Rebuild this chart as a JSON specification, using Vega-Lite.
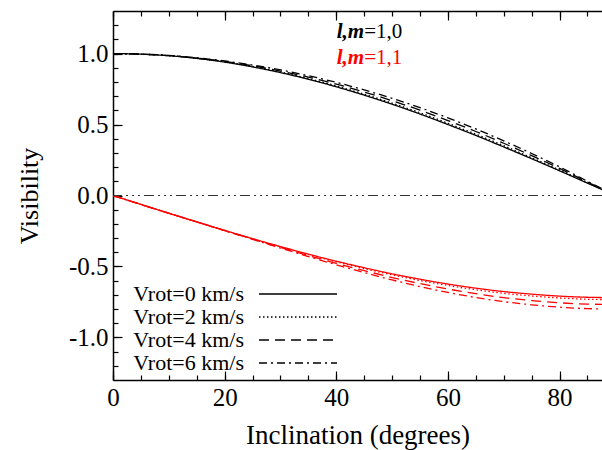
{
  "$schema": "https://vega.github.io/schema/vega-lite/v6.json",
  "width": 489,
  "height": 369,
  "autosize": {"type": "none"},
  "padding": {"left": 113, "top": 11, "right": 0, "bottom": 70},
  "background": "white",
  "config": {
    "view": {"stroke": null},
    "font": "Liberation Serif",
    "axis": {
      "grid": false,
      "domainColor": "black",
      "domainWidth": 1.5,
      "tickColor": "black",
      "tickWidth": 1.2,
      "labelFont": "Liberation Serif",
      "labelFontSize": 25,
      "labelColor": "black",
      "labelFlush": false,
      "titleFont": "Liberation Serif",
      "titleFontSize": 26,
      "titleFontWeight": "normal",
      "titleColor": "black",
      "labelOverlap": false
    }
  },
  "datasets": {
    "curves": [
      {"inc":0,"vis":1.000,"mode":"1,0","vrot":"Vrot=0 km/s"},
      {"inc":5,"vis":0.996,"mode":"1,0","vrot":"Vrot=0 km/s"},
      {"inc":10,"vis":0.985,"mode":"1,0","vrot":"Vrot=0 km/s"},
      {"inc":15,"vis":0.966,"mode":"1,0","vrot":"Vrot=0 km/s"},
      {"inc":20,"vis":0.940,"mode":"1,0","vrot":"Vrot=0 km/s"},
      {"inc":25,"vis":0.906,"mode":"1,0","vrot":"Vrot=0 km/s"},
      {"inc":30,"vis":0.866,"mode":"1,0","vrot":"Vrot=0 km/s"},
      {"inc":35,"vis":0.819,"mode":"1,0","vrot":"Vrot=0 km/s"},
      {"inc":40,"vis":0.766,"mode":"1,0","vrot":"Vrot=0 km/s"},
      {"inc":45,"vis":0.707,"mode":"1,0","vrot":"Vrot=0 km/s"},
      {"inc":50,"vis":0.643,"mode":"1,0","vrot":"Vrot=0 km/s"},
      {"inc":55,"vis":0.574,"mode":"1,0","vrot":"Vrot=0 km/s"},
      {"inc":60,"vis":0.500,"mode":"1,0","vrot":"Vrot=0 km/s"},
      {"inc":65,"vis":0.423,"mode":"1,0","vrot":"Vrot=0 km/s"},
      {"inc":70,"vis":0.342,"mode":"1,0","vrot":"Vrot=0 km/s"},
      {"inc":75,"vis":0.259,"mode":"1,0","vrot":"Vrot=0 km/s"},
      {"inc":80,"vis":0.174,"mode":"1,0","vrot":"Vrot=0 km/s"},
      {"inc":85,"vis":0.087,"mode":"1,0","vrot":"Vrot=0 km/s"},
      {"inc":87.6,"vis":0.042,"mode":"1,0","vrot":"Vrot=0 km/s"},

      {"inc":0,"vis":1.000,"mode":"1,0","vrot":"Vrot=2 km/s"},
      {"inc":5,"vis":0.996,"mode":"1,0","vrot":"Vrot=2 km/s"},
      {"inc":10,"vis":0.985,"mode":"1,0","vrot":"Vrot=2 km/s"},
      {"inc":15,"vis":0.967,"mode":"1,0","vrot":"Vrot=2 km/s"},
      {"inc":20,"vis":0.942,"mode":"1,0","vrot":"Vrot=2 km/s"},
      {"inc":25,"vis":0.909,"mode":"1,0","vrot":"Vrot=2 km/s"},
      {"inc":30,"vis":0.870,"mode":"1,0","vrot":"Vrot=2 km/s"},
      {"inc":35,"vis":0.824,"mode":"1,0","vrot":"Vrot=2 km/s"},
      {"inc":40,"vis":0.772,"mode":"1,0","vrot":"Vrot=2 km/s"},
      {"inc":45,"vis":0.714,"mode":"1,0","vrot":"Vrot=2 km/s"},
      {"inc":50,"vis":0.651,"mode":"1,0","vrot":"Vrot=2 km/s"},
      {"inc":55,"vis":0.583,"mode":"1,0","vrot":"Vrot=2 km/s"},
      {"inc":60,"vis":0.509,"mode":"1,0","vrot":"Vrot=2 km/s"},
      {"inc":65,"vis":0.432,"mode":"1,0","vrot":"Vrot=2 km/s"},
      {"inc":70,"vis":0.351,"mode":"1,0","vrot":"Vrot=2 km/s"},
      {"inc":75,"vis":0.266,"mode":"1,0","vrot":"Vrot=2 km/s"},
      {"inc":80,"vis":0.180,"mode":"1,0","vrot":"Vrot=2 km/s"},
      {"inc":85,"vis":0.090,"mode":"1,0","vrot":"Vrot=2 km/s"},
      {"inc":87.6,"vis":0.043,"mode":"1,0","vrot":"Vrot=2 km/s"},

      {"inc":0,"vis":1.000,"mode":"1,0","vrot":"Vrot=4 km/s"},
      {"inc":5,"vis":0.996,"mode":"1,0","vrot":"Vrot=4 km/s"},
      {"inc":10,"vis":0.986,"mode":"1,0","vrot":"Vrot=4 km/s"},
      {"inc":15,"vis":0.968,"mode":"1,0","vrot":"Vrot=4 km/s"},
      {"inc":20,"vis":0.945,"mode":"1,0","vrot":"Vrot=4 km/s"},
      {"inc":25,"vis":0.914,"mode":"1,0","vrot":"Vrot=4 km/s"},
      {"inc":30,"vis":0.877,"mode":"1,0","vrot":"Vrot=4 km/s"},
      {"inc":35,"vis":0.834,"mode":"1,0","vrot":"Vrot=4 km/s"},
      {"inc":40,"vis":0.785,"mode":"1,0","vrot":"Vrot=4 km/s"},
      {"inc":45,"vis":0.729,"mode":"1,0","vrot":"Vrot=4 km/s"},
      {"inc":50,"vis":0.668,"mode":"1,0","vrot":"Vrot=4 km/s"},
      {"inc":55,"vis":0.601,"mode":"1,0","vrot":"Vrot=4 km/s"},
      {"inc":60,"vis":0.528,"mode":"1,0","vrot":"Vrot=4 km/s"},
      {"inc":65,"vis":0.451,"mode":"1,0","vrot":"Vrot=4 km/s"},
      {"inc":70,"vis":0.368,"mode":"1,0","vrot":"Vrot=4 km/s"},
      {"inc":75,"vis":0.281,"mode":"1,0","vrot":"Vrot=4 km/s"},
      {"inc":80,"vis":0.191,"mode":"1,0","vrot":"Vrot=4 km/s"},
      {"inc":85,"vis":0.095,"mode":"1,0","vrot":"Vrot=4 km/s"},
      {"inc":87.6,"vis":0.046,"mode":"1,0","vrot":"Vrot=4 km/s"},

      {"inc":0,"vis":1.000,"mode":"1,0","vrot":"Vrot=6 km/s"},
      {"inc":5,"vis":0.996,"mode":"1,0","vrot":"Vrot=6 km/s"},
      {"inc":10,"vis":0.987,"mode":"1,0","vrot":"Vrot=6 km/s"},
      {"inc":15,"vis":0.970,"mode":"1,0","vrot":"Vrot=6 km/s"},
      {"inc":20,"vis":0.948,"mode":"1,0","vrot":"Vrot=6 km/s"},
      {"inc":25,"vis":0.919,"mode":"1,0","vrot":"Vrot=6 km/s"},
      {"inc":30,"vis":0.885,"mode":"1,0","vrot":"Vrot=6 km/s"},
      {"inc":35,"vis":0.844,"mode":"1,0","vrot":"Vrot=6 km/s"},
      {"inc":40,"vis":0.797,"mode":"1,0","vrot":"Vrot=6 km/s"},
      {"inc":45,"vis":0.744,"mode":"1,0","vrot":"Vrot=6 km/s"},
      {"inc":50,"vis":0.685,"mode":"1,0","vrot":"Vrot=6 km/s"},
      {"inc":55,"vis":0.619,"mode":"1,0","vrot":"Vrot=6 km/s"},
      {"inc":60,"vis":0.547,"mode":"1,0","vrot":"Vrot=6 km/s"},
      {"inc":65,"vis":0.469,"mode":"1,0","vrot":"Vrot=6 km/s"},
      {"inc":70,"vis":0.385,"mode":"1,0","vrot":"Vrot=6 km/s"},
      {"inc":75,"vis":0.296,"mode":"1,0","vrot":"Vrot=6 km/s"},
      {"inc":80,"vis":0.202,"mode":"1,0","vrot":"Vrot=6 km/s"},
      {"inc":85,"vis":0.100,"mode":"1,0","vrot":"Vrot=6 km/s"},
      {"inc":87.6,"vis":0.048,"mode":"1,0","vrot":"Vrot=6 km/s"},

      {"inc":0,"vis":0.000,"mode":"1,1","vrot":"Vrot=0 km/s"},
      {"inc":5,"vis":-0.063,"mode":"1,1","vrot":"Vrot=0 km/s"},
      {"inc":10,"vis":-0.125,"mode":"1,1","vrot":"Vrot=0 km/s"},
      {"inc":15,"vis":-0.186,"mode":"1,1","vrot":"Vrot=0 km/s"},
      {"inc":20,"vis":-0.246,"mode":"1,1","vrot":"Vrot=0 km/s"},
      {"inc":25,"vis":-0.304,"mode":"1,1","vrot":"Vrot=0 km/s"},
      {"inc":30,"vis":-0.360,"mode":"1,1","vrot":"Vrot=0 km/s"},
      {"inc":35,"vis":-0.413,"mode":"1,1","vrot":"Vrot=0 km/s"},
      {"inc":40,"vis":-0.463,"mode":"1,1","vrot":"Vrot=0 km/s"},
      {"inc":45,"vis":-0.509,"mode":"1,1","vrot":"Vrot=0 km/s"},
      {"inc":50,"vis":-0.552,"mode":"1,1","vrot":"Vrot=0 km/s"},
      {"inc":55,"vis":-0.590,"mode":"1,1","vrot":"Vrot=0 km/s"},
      {"inc":60,"vis":-0.624,"mode":"1,1","vrot":"Vrot=0 km/s"},
      {"inc":65,"vis":-0.653,"mode":"1,1","vrot":"Vrot=0 km/s"},
      {"inc":70,"vis":-0.677,"mode":"1,1","vrot":"Vrot=0 km/s"},
      {"inc":75,"vis":-0.695,"mode":"1,1","vrot":"Vrot=0 km/s"},
      {"inc":80,"vis":-0.709,"mode":"1,1","vrot":"Vrot=0 km/s"},
      {"inc":85,"vis":-0.717,"mode":"1,1","vrot":"Vrot=0 km/s"},
      {"inc":87.6,"vis":-0.719,"mode":"1,1","vrot":"Vrot=0 km/s"},

      {"inc":0,"vis":0.000,"mode":"1,1","vrot":"Vrot=2 km/s"},
      {"inc":5,"vis":-0.063,"mode":"1,1","vrot":"Vrot=2 km/s"},
      {"inc":10,"vis":-0.125,"mode":"1,1","vrot":"Vrot=2 km/s"},
      {"inc":15,"vis":-0.186,"mode":"1,1","vrot":"Vrot=2 km/s"},
      {"inc":20,"vis":-0.246,"mode":"1,1","vrot":"Vrot=2 km/s"},
      {"inc":25,"vis":-0.305,"mode":"1,1","vrot":"Vrot=2 km/s"},
      {"inc":30,"vis":-0.362,"mode":"1,1","vrot":"Vrot=2 km/s"},
      {"inc":35,"vis":-0.416,"mode":"1,1","vrot":"Vrot=2 km/s"},
      {"inc":40,"vis":-0.467,"mode":"1,1","vrot":"Vrot=2 km/s"},
      {"inc":45,"vis":-0.515,"mode":"1,1","vrot":"Vrot=2 km/s"},
      {"inc":50,"vis":-0.559,"mode":"1,1","vrot":"Vrot=2 km/s"},
      {"inc":55,"vis":-0.599,"mode":"1,1","vrot":"Vrot=2 km/s"},
      {"inc":60,"vis":-0.634,"mode":"1,1","vrot":"Vrot=2 km/s"},
      {"inc":65,"vis":-0.664,"mode":"1,1","vrot":"Vrot=2 km/s"},
      {"inc":70,"vis":-0.689,"mode":"1,1","vrot":"Vrot=2 km/s"},
      {"inc":75,"vis":-0.708,"mode":"1,1","vrot":"Vrot=2 km/s"},
      {"inc":80,"vis":-0.722,"mode":"1,1","vrot":"Vrot=2 km/s"},
      {"inc":85,"vis":-0.731,"mode":"1,1","vrot":"Vrot=2 km/s"},
      {"inc":87.6,"vis":-0.733,"mode":"1,1","vrot":"Vrot=2 km/s"},

      {"inc":0,"vis":0.000,"mode":"1,1","vrot":"Vrot=4 km/s"},
      {"inc":5,"vis":-0.063,"mode":"1,1","vrot":"Vrot=4 km/s"},
      {"inc":10,"vis":-0.125,"mode":"1,1","vrot":"Vrot=4 km/s"},
      {"inc":15,"vis":-0.186,"mode":"1,1","vrot":"Vrot=4 km/s"},
      {"inc":20,"vis":-0.247,"mode":"1,1","vrot":"Vrot=4 km/s"},
      {"inc":25,"vis":-0.307,"mode":"1,1","vrot":"Vrot=4 km/s"},
      {"inc":30,"vis":-0.366,"mode":"1,1","vrot":"Vrot=4 km/s"},
      {"inc":35,"vis":-0.423,"mode":"1,1","vrot":"Vrot=4 km/s"},
      {"inc":40,"vis":-0.478,"mode":"1,1","vrot":"Vrot=4 km/s"},
      {"inc":45,"vis":-0.529,"mode":"1,1","vrot":"Vrot=4 km/s"},
      {"inc":50,"vis":-0.578,"mode":"1,1","vrot":"Vrot=4 km/s"},
      {"inc":55,"vis":-0.621,"mode":"1,1","vrot":"Vrot=4 km/s"},
      {"inc":60,"vis":-0.659,"mode":"1,1","vrot":"Vrot=4 km/s"},
      {"inc":65,"vis":-0.692,"mode":"1,1","vrot":"Vrot=4 km/s"},
      {"inc":70,"vis":-0.720,"mode":"1,1","vrot":"Vrot=4 km/s"},
      {"inc":75,"vis":-0.740,"mode":"1,1","vrot":"Vrot=4 km/s"},
      {"inc":80,"vis":-0.756,"mode":"1,1","vrot":"Vrot=4 km/s"},
      {"inc":85,"vis":-0.765,"mode":"1,1","vrot":"Vrot=4 km/s"},
      {"inc":87.6,"vis":-0.767,"mode":"1,1","vrot":"Vrot=4 km/s"},

      {"inc":0,"vis":0.000,"mode":"1,1","vrot":"Vrot=6 km/s"},
      {"inc":5,"vis":-0.063,"mode":"1,1","vrot":"Vrot=6 km/s"},
      {"inc":10,"vis":-0.125,"mode":"1,1","vrot":"Vrot=6 km/s"},
      {"inc":15,"vis":-0.186,"mode":"1,1","vrot":"Vrot=6 km/s"},
      {"inc":20,"vis":-0.248,"mode":"1,1","vrot":"Vrot=6 km/s"},
      {"inc":25,"vis":-0.309,"mode":"1,1","vrot":"Vrot=6 km/s"},
      {"inc":30,"vis":-0.370,"mode":"1,1","vrot":"Vrot=6 km/s"},
      {"inc":35,"vis":-0.430,"mode":"1,1","vrot":"Vrot=6 km/s"},
      {"inc":40,"vis":-0.488,"mode":"1,1","vrot":"Vrot=6 km/s"},
      {"inc":45,"vis":-0.543,"mode":"1,1","vrot":"Vrot=6 km/s"},
      {"inc":50,"vis":-0.595,"mode":"1,1","vrot":"Vrot=6 km/s"},
      {"inc":55,"vis":-0.642,"mode":"1,1","vrot":"Vrot=6 km/s"},
      {"inc":60,"vis":-0.683,"mode":"1,1","vrot":"Vrot=6 km/s"},
      {"inc":65,"vis":-0.719,"mode":"1,1","vrot":"Vrot=6 km/s"},
      {"inc":70,"vis":-0.748,"mode":"1,1","vrot":"Vrot=6 km/s"},
      {"inc":75,"vis":-0.770,"mode":"1,1","vrot":"Vrot=6 km/s"},
      {"inc":80,"vis":-0.787,"mode":"1,1","vrot":"Vrot=6 km/s"},
      {"inc":85,"vis":-0.797,"mode":"1,1","vrot":"Vrot=6 km/s"},
      {"inc":87.6,"vis":-0.799,"mode":"1,1","vrot":"Vrot=6 km/s"}
    ]
  },
  "layer": [
    {
      "data": {"name": "curves"},
      "mark": {"type": "line", "strokeWidth": 1.3, "interpolate": "monotone", "clip": true},
      "encoding": {
        "x": {
          "field": "inc", "type": "quantitative",
          "scale": {"domain": [0, 87.6], "nice": false, "zero": false},
          "axis": {
            "orient": "bottom",
            "values": [0, 20, 40, 60, 80],
            "tickSize": -9,
            "labelPadding": 14,
            "title": "Inclination (degrees)",
            "titleFontSize": 27,
            "titlePadding": 12
          }
        },
        "y": {
          "field": "vis", "type": "quantitative",
          "scale": {"domain": [-1.3, 1.3], "nice": false, "zero": false},
          "axis": {
            "orient": "left",
            "values": [-1, -0.5, 0, 0.5, 1],
            "tickSize": -9,
            "labelPadding": 14,
            "labelExpr": "replace(format(datum.value, '.1f'), '\u2212', '-')",
            "title": "Visibility",
            "titlePadding": 26
          }
        },
        "color": {
          "field": "mode", "type": "nominal",
          "scale": {"domain": ["1,0", "1,1"], "range": ["#000000", "#ff0000"]},
          "legend": null
        },
        "strokeDash": {
          "field": "vrot", "type": "nominal",
          "scale": {
            "domain": ["Vrot=0 km/s", "Vrot=2 km/s", "Vrot=4 km/s", "Vrot=6 km/s"],
            "range": [[1, 0], [1.5, 2.5], [10, 6], [8, 4, 2, 4]]
          },
          "legend": {
            "orient": "none",
            "legendX": 174,
            "legendY": 272,
            "title": null,
            "padding": 0,
            "symbolType": "M-9.75,0H9.75",
            "symbolSize": 64,
            "symbolStrokeColor": "#000000",
            "symbolFillColor": "transparent",
            "symbolStrokeWidth": 1.5,
            "labelAlign": "right",
            "labelOffset": -65,
            "labelFont": "Liberation Serif",
            "labelFontSize": 22,
            "labelColor": "#000000",
            "labelLimit": 0,
            "rowPadding": 1
          }
        }
      }
    },
    {
      "data": {"values": [{}]},
      "mark": {"type": "rule", "color": "#333333", "strokeWidth": 1.2, "strokeDash": [10, 4, 2, 4, 2, 4, 2, 4]},
      "encoding": {
        "y": {"datum": 0, "type": "quantitative", "axis": null}
      }
    },
    {
      "data": {"values": [{}]},
      "mark": {"type": "text", "text": "l,m", "align": "right", "baseline": "alphabetic", "fontSize": 21, "fontStyle": "italic", "fontWeight": "bold", "color": "#000000"},
      "encoding": {
        "x": {
          "datum": 45.0, "type": "quantitative",
          "axis": {"orient": "bottom", "values": [0,5,10,15,20,25,30,35,40,45,50,55,60,65,70,75,80,85], "tickSize": -5, "labels": false, "domain": false, "title": null}
        },
        "y": {
          "datum": 1.113, "type": "quantitative",
          "axis": {"orient": "left", "values": [-1.2,-1.1,-1,-0.9,-0.8,-0.7,-0.6,-0.5,-0.4,-0.3,-0.2,-0.1,0,0.1,0.2,0.3,0.4,0.5,0.6,0.7,0.8,0.9,1,1.1,1.2], "tickSize": -5, "labels": false, "domain": false, "title": null}
        }
      }
    },
    {
      "data": {"values": [{}]},
      "mark": {"type": "text", "text": "=1,0", "align": "left", "baseline": "alphabetic", "fontSize": 21, "color": "#000000"},
      "encoding": {
        "x": {
          "datum": 45.0, "type": "quantitative",
          "axis": {"orient": "top", "values": [0, 20, 40, 60, 80], "tickSize": -9, "labels": false, "title": null}
        },
        "y": {"datum": 1.113, "type": "quantitative", "axis": null}
      }
    },
    {
      "data": {"values": [{}]},
      "mark": {"type": "text", "text": "l,m", "align": "right", "baseline": "alphabetic", "fontSize": 21, "fontStyle": "italic", "fontWeight": "bold", "color": "#ff0000"},
      "encoding": {
        "x": {
          "datum": 45.0, "type": "quantitative",
          "axis": {"orient": "top", "values": [0,5,10,15,20,25,30,35,40,45,50,55,60,65,70,75,80,85], "tickSize": -5, "labels": false, "domain": false, "title": null}
        },
        "y": {"datum": 0.93, "type": "quantitative", "axis": null}
      }
    },
    {
      "data": {"values": [{}]},
      "mark": {"type": "text", "text": "=1,1", "align": "left", "baseline": "alphabetic", "fontSize": 21, "color": "#ff0000"},
      "encoding": {
        "x": {"datum": 45.0, "type": "quantitative", "axis": null},
        "y": {"datum": 0.93, "type": "quantitative", "axis": null}
      }
    }
  ],
  "resolve": {"axis": {"x": "independent", "y": "independent"}}
}
